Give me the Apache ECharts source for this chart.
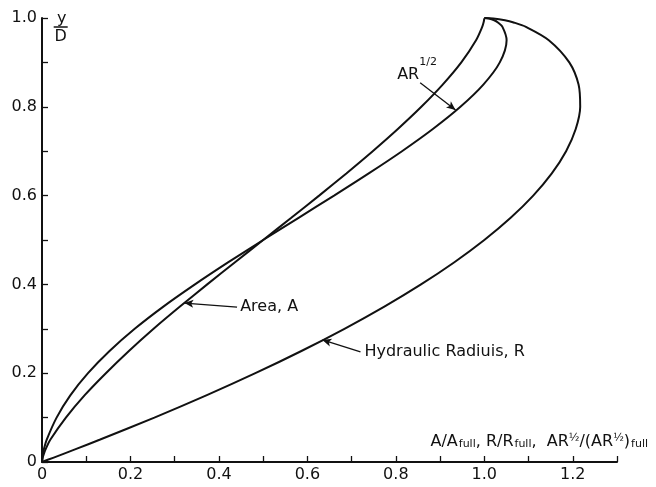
<!DOCTYPE html>
<html>
<head>
<meta charset="utf-8">
<script src="https://cdn.jsdelivr.net/npm/echarts@6/dist/echarts.min.js"></script>
<style>
  html, body { margin: 0; padding: 0; background: #fff; }
  #main { width: 656px; height: 487px; }
</style>
</head>
<body>
<div id="main"></div>
<script>
// relative depth y/D (shared by all three curves)
var depthRatio = [0, 0.001, 0.01, 0.02, 0.03, 0.05, 0.1, 0.15, 0.2, 0.25, 0.3, 0.35, 0.4, 0.45, 0.5,
  0.55, 0.6, 0.65, 0.7, 0.75, 0.8, 0.85, 0.9, 0.95, 0.98, 0.99, 0.995, 0.999, 1];
// A / A full
var areaRatio = [0, 0.00005, 0.0017, 0.0048, 0.0088, 0.0187, 0.054, 0.0961, 0.1444, 0.1965, 0.2523, 0.3119, 0.3735, 0.4364, 0.5,
  0.5636, 0.6265, 0.6881, 0.7477, 0.8045, 0.8576, 0.9059, 0.948, 0.9813, 0.9952, 0.9983, 0.9994, 0.9999, 1];
// R / R full
var radiusRatio = [0, 0.0027, 0.0265, 0.0529, 0.079, 0.1302, 0.2541, 0.3715, 0.4824, 0.5865, 0.6838, 0.774, 0.8569, 0.9323, 1,
  1.0596, 1.1106, 1.1526, 1.1849, 1.2067, 1.2168, 1.2131, 1.1921, 1.1458, 1.0941, 1.0663, 1.0466, 1.0205, 1];
// AR^1/2 / (AR^1/2) full
var arHalfRatio = [0, 0.00001, 0.0006, 0.0022, 0.0045, 0.0105, 0.033, 0.064, 0.104, 0.1527, 0.2096, 0.2744, 0.3458, 0.4214, 0.5,
  0.5801, 0.6603, 0.7387, 0.8139, 0.8837, 0.946, 0.9978, 1.035, 1.0504, 1.041, 1.0308, 1.0224, 1.0101, 1];

var xTickLabels = ['0', '', '0.2', '', '0.4', '', '0.6', '', '0.8', '', '1.0', '', '1.2', ''];
var yTickLabels = ['0', '', '0.2', '', '0.4', '', '0.6', '', '0.8', '', '1.0'];

var FONT = 'DejaVu Sans';

function pairs(xs) {
  return xs.map(function (x, i) { return [x, depthRatio[i]]; });
}

function leader(from, to) {
  return {
    silent: true,
    animation: false,
    symbol: ['none', 'arrow'],
    symbolSize: [6, 9],
    lineStyle: { color: '#111', width: 1.3, type: 'solid' },
    label: { show: false },
    data: [[{ coord: from }, { coord: to }]]
  };
}

var lineBase = {
  type: 'line',
  showSymbol: false,
  smooth: 0.3,
  animation: false,
  lineStyle: { color: '#111', width: 2 }
};

var option = {
  backgroundColor: '#fff',
  grid: { left: 42, right: 39, top: 18, bottom: 25 },
  xAxis: {
    type: 'value', min: 0, max: 1.3, interval: 0.1,
    axisLine: { lineStyle: { color: '#111', width: 2 } },
    axisTick: { inside: true, length: 6, lineStyle: { color: '#111', width: 1.3 } },
    splitLine: { show: false },
    axisLabel: {
      color: '#111', fontFamily: FONT, fontSize: 16, margin: 5,
      formatter: function (v) { return xTickLabels[Math.round(v * 10)] || ''; }
    }
  },
  yAxis: {
    type: 'value', min: 0, max: 1, interval: 0.1,
    axisLine: { show: true, lineStyle: { color: '#111', width: 2 } },
    axisTick: { show: true, inside: true, length: 6, lineStyle: { color: '#111', width: 1.3 } },
    splitLine: { show: false },
    axisLabel: {
      color: '#111', fontFamily: FONT, fontSize: 16, margin: 5,
      formatter: function (v) { return yTickLabels[Math.round(v * 10)] || ''; }
    }
  },
  series: [
    Object.assign({}, lineBase, { name: 'Area, A', data: pairs(areaRatio),
      markLine: leader([0.441, 0.349], [0.322, 0.358]) }),
    Object.assign({}, lineBase, { name: 'Hydraulic Radius, R', data: pairs(radiusRatio),
      markLine: leader([0.72, 0.248], [0.634, 0.275]) }),
    Object.assign({}, lineBase, { name: 'AR1/2', data: pairs(arHalfRatio),
      markLine: leader([0.855, 0.854], [0.935, 0.793]) })
  ]
};

var chart = echarts.init(document.getElementById('main'));
chart.setOption(option);

var px = function (x, y) { return chart.convertToPixel({ gridIndex: 0 }, [x, y]); };
var txt = function (pos, text, size, align, vAlign) {
  return {
    type: 'text', x: pos[0], y: pos[1], silent: true,
    style: { text: text, fill: '#111', font: size + 'px "' + FONT + '"', align: align || 'left', verticalAlign: vAlign || 'middle' }
  };
};

var areaPos = px(0.448, 0.349);
var radPos = px(0.729, 0.248);
var arPos = px(0.803, 0.872);
var supPos = px(0.853, 0.9);
var fracTop = px(0.04, 1.0);

chart.setOption({
  graphic: [
    txt(areaPos, 'Area, A', 16),
    txt(radPos, 'Hydraulic Radiuis, R', 16),
    txt(arPos, 'AR', 16),
    txt(supPos, '1/2', 11),
    // y/D fraction near the top of the y axis
    txt([fracTop[0] + 2, fracTop[1] + 1], 'y', 16, 'center'),
    { type: 'line', silent: true, shape: { x1: fracTop[0] - 6, y1: fracTop[1] + 9, x2: fracTop[0] + 8, y2: fracTop[1] + 9 },
      style: { stroke: '#111', lineWidth: 1.5 } },
    txt([fracTop[0] + 1, fracTop[1] + 19], 'D', 16, 'center'),
    // x axis title
    {
      type: 'text', right: 8, top: 433, silent: true,
      style: {
        text: '{n|A/A}{s|full}{n|, R/R}{s|full}{n|,  AR}{f|½}{n|/(AR}{f|½}{n|)}{s|full}',
        fill: '#111',
        rich: {
          n: { fontFamily: FONT, fontSize: 16, fill: '#111' },
          s: { fontFamily: FONT, fontSize: 11, fill: '#111', padding: [5, 0, 0, 1] },
          f: { fontFamily: FONT, fontSize: 11, fill: '#111', padding: [0, 0, 7, 0] }
        }
      }
    }
  ]
});
</script>
</body>
</html>
